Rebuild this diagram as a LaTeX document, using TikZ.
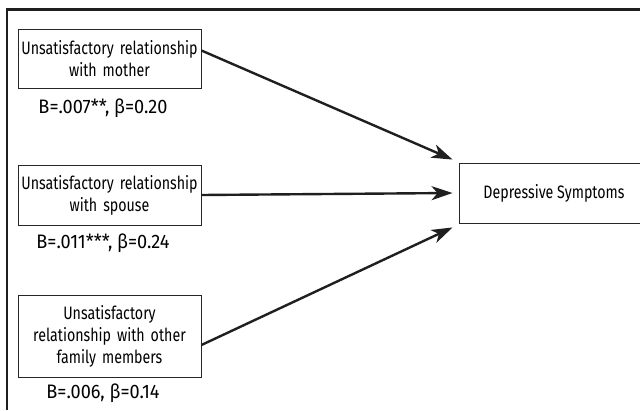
\documentclass[tikz,border=0pt]{standalone}
\usepackage{fontspec}
\setmainfont[FakeStretch=0.79]{Fira Sans}
\newfontfamily\labfont[FakeStretch=0.93]{Fira Sans}
\usetikzlibrary{arrows.meta}
\begin{document}
\begin{tikzpicture}[x=1pt,y=-1pt,
  every node/.style={font=\fontsize{18}{22}\selectfont},
  srcbox/.style={draw=black!85,line width=0.9pt,minimum width=183pt,text width=179pt,align=center,inner sep=2pt},
  coef/.style={inner sep=0pt,font=\labfont\fontsize{19.5}{22}\selectfont},
  frameline/.style={line width=2.6pt,draw=black!88},
  path/.style={line width=2.4pt,draw=black!88,-{Stealth[length=21pt,width=14pt,inset=6pt]}}]
\useasboundingbox (0,0) rectangle (640,410);
\draw[frameline] (7,410) -- (7,9.5) -- (640,9.5);
\node[srcbox,minimum height=59pt] (m) at (109.5,58.5) {Unsatisfactory relationship\\with mother};
\node[coef] (lm) at (103,108) {B=.007**, β=0.20};
\node[srcbox,minimum height=60pt] (s) at (109.5,195) {Unsatisfactory relationship\\with spouse};
\node[coef] (ls) at (103,243) {B=.011***, β=0.24};
\node[srcbox,minimum height=82pt] (o) at (109.5,336) {Unsatisfactory\\relationship with other\\family members};
\node[coef] (lo) at (103,393) {B=.006, β=0.14};
\node[draw=black!85,line width=0.9pt,minimum width=190pt,minimum height=60pt] (d) at (554,193) {Depressive Symptoms};
\coordinate (d1) at ([xshift=-6pt,yshift=3pt]d.north west);
\coordinate (d2) at ([xshift=-6pt]d.west);
\coordinate (d3) at ([xshift=-6pt,yshift=-4pt]d.south west);
\draw[path] ([yshift=8pt]m.east) -- (d1);
\draw[path] (s.east) -- (d2);
\draw[path] ([yshift=-9pt]o.east) -- (d3);
\end{tikzpicture}
\end{document}
